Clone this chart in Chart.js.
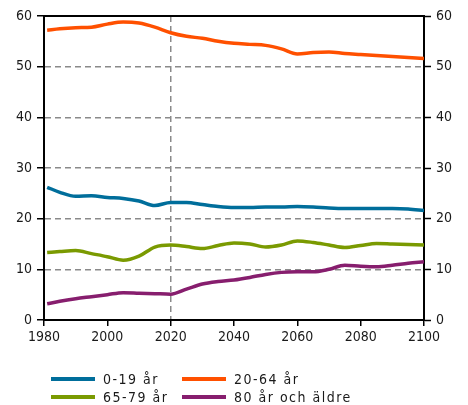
<!DOCTYPE html>
<html>
<head>
<meta charset="utf-8">
<script src="https://cdn.jsdelivr.net/npm/chart.js@4"></script>
<style>
  body { margin: 0; background: #fff; }
  #wrap { position: relative; width: 468px; height: 405px; }
  #legend {
    position: absolute; left: 51px; top: 370px;
    display: grid; grid-template-columns: 131px auto;
    font: 14px "DejaVu Sans Condensed", "DejaVu Sans", sans-serif;
    letter-spacing: 1.5px; color: #1a1a1a;
  }
  .item { display: flex; align-items: center; height: 18px; }
  .swatch { width: 44px; height: 4px; margin-right: 8px; }
</style>
</head>
<body>
<div id="wrap">
  <canvas id="chart" width="468" height="405"></canvas>
  <div id="legend"></div>
</div>
<script>
const years = [1981, 1985, 1990, 1995, 2000, 2005, 2010, 2015, 2020, 2025, 2030, 2035, 2040,
  2045, 2050, 2055, 2060, 2065, 2070, 2075, 2080, 2085, 2090, 2095, 2100];

const age0to19 = [26.2, 25.2, 24.4, 24.5, 24.2, 24.0, 23.5, 22.6, 23.2, 23.2, 22.8, 22.4, 22.2,
  22.2, 22.3, 22.3, 22.4, 22.3, 22.1, 22.0, 22.0, 22.0, 22.0, 21.9, 21.6];
const age20to64 = [57.2, 57.5, 57.7, 57.8, 58.4, 58.8, 58.6, 57.8, 56.7, 56.0, 55.6, 55.0, 54.6,
  54.4, 54.2, 53.5, 52.5, 52.8, 52.9, 52.6, 52.4, 52.2, 52.0, 51.8, 51.6];
const age65to79 = [13.3, 13.5, 13.7, 13.1, 12.5, 11.8, 12.6, 14.4, 14.8, 14.5, 14.1, 14.7, 15.2,
  15.0, 14.4, 14.8, 15.6, 15.3, 14.8, 14.3, 14.7, 15.1, 15.0, 14.9, 14.8];
const age80plus = [3.2, 3.7, 4.2, 4.6, 5.0, 5.4, 5.3, 5.2, 5.1, 6.1, 7.1, 7.6, 7.9,
  8.4, 9.0, 9.4, 9.5, 9.5, 10.0, 10.8, 10.6, 10.5, 10.8, 11.2, 11.5];

const seriesLabels = ["0-19 år", "20-64 år", "65-79 år", "80 år och äldre"];
const seriesColors = ["#006e9b", "#ff5000", "#7a9a01", "#871e6e"];
const seriesValues = [age0to19, age20to64, age65to79, age80plus];

const yTicks = [0, 10, 20, 30, 40, 50, 60];
const markerYear = 2020;

const tickFont = { family: "'DejaVu Sans Condensed', 'DejaVu Sans', sans-serif", size: 14 };
const gridGray = "#8a8a8a";

const datasets = seriesValues.map((vals, i) => ({
  label: seriesLabels[i],
  data: vals.map((v, j) => ({ x: years[j], y: v })),
  borderColor: seriesColors[i],
  backgroundColor: seriesColors[i],
  borderWidth: 3.5,
  pointRadius: 0,
  cubicInterpolationMode: "monotone",
  fill: false
}));

const chart = new Chart(document.getElementById("chart"), {
  type: "line",
  data: { datasets },
  options: {
    responsive: false,
    animation: false,
    layout: { padding: { left: 0, right: 0, top: 0, bottom: 50 } },
    plugins: { legend: { display: false }, tooltip: { enabled: false } },
    scales: {
      x: {
        type: "linear", position: "bottom", min: 1980, max: 2100,
        ticks: { stepSize: 20, color: "#1a1a1a", font: tickFont, padding: 3, callback: v => String(v) },
        grid: {
          color: ctx => (ctx.tick && ctx.tick.value === markerYear) ? gridGray : "transparent",
          lineWidth: 1.5,
          tickColor: "#000", tickLength: 6, tickWidth: 1.5, tickBorderDash: []
        },
        border: { color: "#000", width: 2, dash: [6, 4] },
        afterFit: s => { s.height = 35; }
      },
      x2: {
        type: "linear", position: "top", min: 1980, max: 2100,
        ticks: { display: false },
        grid: { display: false },
        border: { color: "#000", width: 2 },
        afterFit: s => { s.height = 16; }
      },
      y: {
        position: "left", min: 0, max: 60,
        afterBuildTicks: s => { s.ticks = yTicks.map(v => ({ value: v })); },
        ticks: { color: "#1a1a1a", font: tickFont, padding: 5 },
        grid: {
          color: ctx => (ctx.tick && (ctx.tick.value === 0 || ctx.tick.value === 60)) ? "transparent" : gridGray,
          lineWidth: 1.5,
          tickColor: "#000", tickLength: 7, tickWidth: 1.5, tickBorderDash: []
        },
        border: { color: "#000", width: 2, dash: [6, 4] },
        afterFit: s => { s.width = 44; }
      },
      y2: {
        position: "right", min: 0, max: 60,
        afterBuildTicks: s => { s.ticks = yTicks.map(v => ({ value: v })); },
        ticks: { color: "#1a1a1a", font: tickFont, padding: 5 },
        grid: { drawOnChartArea: false, tickColor: "#000", tickLength: 7, tickWidth: 1.5 },
        border: { color: "#000", width: 2 },
        afterFit: s => { s.width = 44; }
      }
    }
  }
});

// legend laid out as a 2x2 grid like the original
const legend = document.getElementById("legend");
chart.data.datasets.forEach(ds => {
  const item = document.createElement("div");
  item.className = "item";
  item.innerHTML = `<span class="swatch" style="background:${ds.borderColor}"></span><span>${ds.label}</span>`;
  legend.appendChild(item);
});
</script>
</body>
</html>
